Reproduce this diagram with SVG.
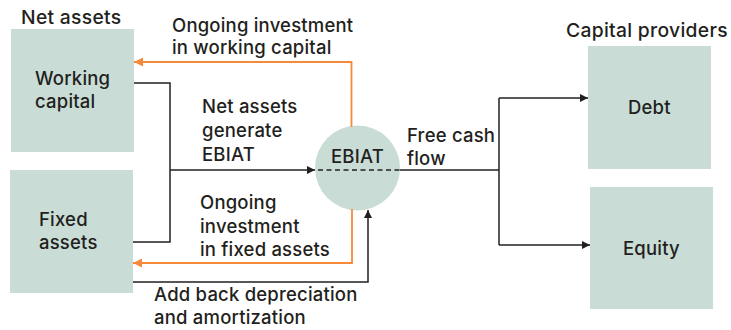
<svg xmlns="http://www.w3.org/2000/svg" width="731" height="330" viewBox="0 0 731 330">
  <style>
    .box { fill: #c9ddd6; }
    .t { font-family: Inter, "Liberation Sans", Arial, sans-serif; font-weight: 500; font-size: 18.5px; letter-spacing: 0.2px; fill: #231f20; }
    .h { font-size: 19.3px; letter-spacing: 0.3px; }
    .k { fill: none; stroke: #231f20; stroke-width: 1.5; }
    .o { fill: none; stroke: #f58a3c; stroke-width: 1.8; }
    .dash { fill: none; stroke: #231f20; stroke-width: 1.5; stroke-dasharray: 5 3.5; }
  </style>
  <defs>
    <marker id="ah" viewBox="0 0 10 10" refX="10" refY="5" markerWidth="8" markerHeight="8" markerUnits="userSpaceOnUse" orient="auto">
      <path d="M0,0 L10,5 L0,10 Z" fill="#231f20"/>
    </marker>
    <marker id="ahO" viewBox="0 0 10 10" refX="10" refY="5" markerWidth="9" markerHeight="9" markerUnits="userSpaceOnUse" orient="auto">
      <path d="M0,0 L10,5 L0,10 Z" fill="#f58a3c"/>
    </marker>
  </defs>

  <!-- group headings -->
  <text class="t h" x="21" y="24">Net assets</text>
  <text class="t h" x="566" y="37">Capital providers</text>

  <!-- nodes -->
  <g id="working-capital">
    <rect class="box" x="11" y="29" width="123" height="123"/>
    <text class="t" x="35" y="85">Working</text>
    <text class="t" x="35" y="108">capital</text>
  </g>
  <g id="fixed-assets">
    <rect class="box" x="10" y="170" width="123" height="123"/>
    <text class="t" x="39" y="226">Fixed</text>
    <text class="t" x="39" y="249">assets</text>
  </g>
  <g id="ebiat">
    <circle class="box" cx="357.5" cy="168" r="42.5"/>
    <text class="t" x="331" y="163">EBIAT</text>
  </g>
  <g id="debt">
    <rect class="box" x="588" y="46" width="123" height="123"/>
    <text class="t" x="628" y="114">Debt</text>
  </g>
  <g id="equity">
    <rect class="box" x="590" y="187" width="123" height="122"/>
    <text class="t" x="623" y="255">Equity</text>
  </g>

  <!-- connectors -->
  <g id="connectors">
    <!-- net assets generate EBIAT -->
    <path class="k" d="M134,83 H170 V242 H133"/>
    <path class="k" d="M170,170 H315" marker-end="url(#ah)"/>
    <path class="dash" d="M318,170 H400"/>
    <!-- add back depreciation and amortization -->
    <path class="k" d="M133,282 H368 V210" marker-end="url(#ah)"/>
    <!-- ongoing investment (orange) -->
    <path class="o" d="M351.5,127 V62 H134" marker-end="url(#ahO)"/>
    <path class="o" d="M352,209 V263 H133" marker-end="url(#ahO)"/>
    <!-- free cash flow split -->
    <path class="k" d="M400,170 H499"/>
    <path class="k" d="M499,98 V245"/>
    <path class="k" d="M499,98 H588" marker-end="url(#ah)"/>
    <path class="k" d="M499,245 H590" marker-end="url(#ah)"/>
  </g>

  <!-- connector labels -->
  <text class="t" x="172" y="32">Ongoing investment</text>
  <text class="t" x="172" y="54">in working capital</text>
  <text class="t" x="202" y="113">Net assets</text>
  <text class="t" x="202" y="137">generate</text>
  <text class="t" x="202" y="161">EBIAT</text>
  <text class="t" x="407" y="142">Free cash</text>
  <text class="t" x="407" y="165">flow</text>
  <text class="t" x="200" y="209">Ongoing</text>
  <text class="t" x="200" y="233">investment</text>
  <text class="t" x="200" y="256">in fixed assets</text>
  <text class="t" x="154" y="301">Add back depreciation</text>
  <text class="t" x="154" y="324">and amortization</text>
</svg>
